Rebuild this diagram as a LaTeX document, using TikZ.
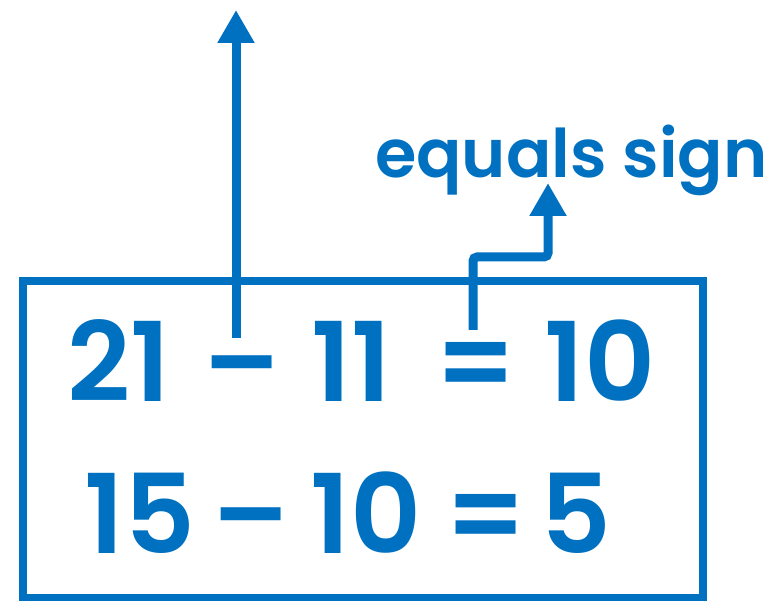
\documentclass[tikz,border=0pt]{standalone}
\usepackage{fontspec}
\setmainfont{Poppins}[BoldFont={Poppins SemiBold}]
\usetikzlibrary{arrows.meta}
\definecolor{signblue}{RGB}{0,112,192}

\begin{document}
\begin{tikzpicture}[x=1pt, y=1pt,
  every node/.style={text=signblue, inner sep=0pt, anchor=base, font=\fontsize{110}{110}\selectfont\bfseries},
  pointer/.style={signblue, line width=9pt, -{Triangle[width=35pt,length=33pt]}}]
\useasboundingbox (0,0) rectangle (784,600);

\draw[signblue, line width=8pt] (23,2) rectangle (703,319);

% first sum
\node (a1) at (119,198) {21};
\node (a2) at (242,198) {--};
\node (a3) at (351,198) {11};
\node (a4) at (476,198) {=};
\node (a5) at (600,198) {10};

% second sum
\node (b1) at (140,47) {15};
\node (b2) at (251,47) {--};
\node (b3) at (366,47) {10};
\node (b4) at (486,47) {=};
\node (b5) at (576,47) {5};

\node[anchor=base west, font=\fontsize{67}{67}\selectfont\bfseries] (signlabel) at (375,422) {equals sign};
\coordinate (toptip) at (236,590);
\coordinate (signtip) at (548,417);

\draw[pointer] ([xshift=-6pt,yshift=64pt]a2.base) -- (toptip);
\draw[pointer, rounded corners=4pt] ([xshift=-3pt,yshift=72pt]a4.base) |- ([yshift=-74pt]signtip) -- (signtip);

\end{tikzpicture}
\end{document}
